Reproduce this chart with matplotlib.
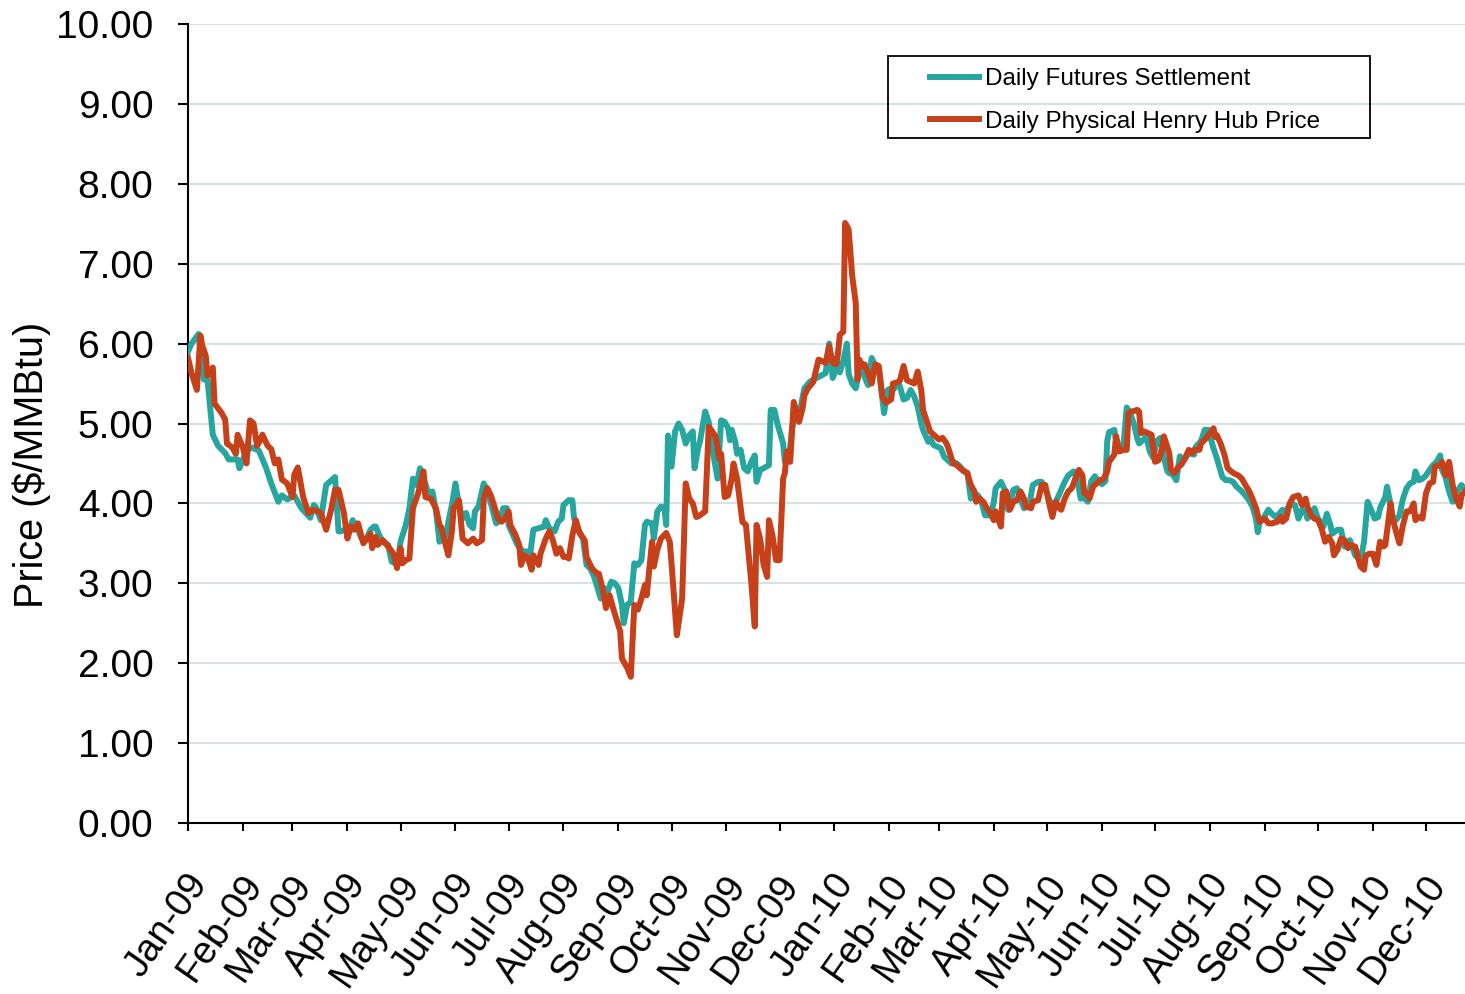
# Henry Hub: 일별 선물 정산가 vs 현물가 (2009-2010) 재현
import numpy as np
import matplotlib
matplotlib.use("Agg")
import matplotlib.pyplot as plt
import matplotlib.dates as mdates
from matplotlib.patches import Rectangle
from matplotlib.transforms import ScaledTranslation

plt.rcParams["font.family"] = ["Liberation Sans", "DejaVu Sans"]

START = np.datetime64("2009-01-01")
END_DAY = 721

# 선물 정산가 (2009-01-01 기준 경과일, $/MMBtu)
fut_day = [0, 2, 6, 9, 11, 14, 17, 21, 23, 28, 29, 33, 36, 40, 44, 47, 51, 53, 56, 60, 64, 69,
           71, 72, 75, 76, 78, 80, 83, 85, 86, 89, 92, 93, 96, 98, 101, 103, 105, 106, 108, 110,
           113, 115, 117, 119, 120, 123, 125, 127, 129, 131, 134, 136, 138, 140, 142,
           143, 145, 147, 149, 151, 153, 155, 157, 159, 161, 162, 164, 166, 167, 169, 171, 174,
           176, 178, 180, 181, 184, 186, 189, 191, 193, 195, 198, 201, 202, 204, 207, 209, 211,
           212, 215, 217, 218, 220, 223, 225, 227, 229, 231, 233, 235, 237, 239, 241, 243, 245,
           246, 248, 250, 252, 254, 256, 258, 259, 262, 263, 265, 267, 269, 270, 271, 273, 275,
           277, 279, 281, 283, 285, 286, 288, 289, 292, 294, 296, 299, 301, 303, 305, 306, 307,
           309, 310, 312, 314, 316, 318, 320, 321, 323, 325, 328, 329, 331, 333, 336, 337, 340,
           341, 343, 346, 348, 351, 354, 360, 362, 364, 367, 368, 370, 372, 373, 375, 377, 379,
           381, 382, 384, 386, 388, 390, 391, 393, 395, 397, 398, 401, 402, 404, 406, 408, 410,
           412, 414, 415, 418, 419, 421, 423, 425, 427, 429, 431, 432, 434, 436, 438, 440, 442,
           444, 446, 448, 450, 453, 455, 456, 459, 462, 463, 466, 468, 470, 472, 475, 477, 480,
           482, 484, 486, 488, 490, 493, 495, 497, 500, 502, 504, 506, 508, 510, 512, 514, 516,
           518, 519, 520, 523, 525, 528, 530, 532, 534, 536, 537, 540, 541, 543, 545, 547, 549,
           551, 553, 554, 556, 558, 560, 562, 565, 568, 569, 572, 574, 576, 579, 581, 582, 584,
           586, 588, 590, 592, 595, 597, 599, 601, 603, 604, 605, 607, 610, 612, 614, 616, 618,
           619, 621, 623, 625, 627, 629, 631, 632, 634, 636, 638, 641, 643, 645, 646, 649, 651,
           653, 655, 656, 659, 660, 662, 664, 666, 668, 670, 672, 673, 676, 677, 679, 680, 682,
           684, 686, 688, 690, 692, 693, 695, 697, 699, 701, 703, 705, 707, 708, 710, 712, 714,
           716, 719, 721]
fut_price = [5.90, 6.00, 6.12, 5.55, 5.55, 4.86, 4.72, 4.63, 4.55, 4.55, 4.44, 4.66, 4.70, 4.66,
             4.45, 4.25, 4.02, 4.10, 4.05, 4.10, 3.94, 3.82,
             3.98, 3.96, 3.79, 3.94, 4.23, 4.27, 4.33, 3.65, 3.65, 3.67, 3.73, 3.79, 3.67, 3.56,
             3.56, 3.67, 3.71, 3.71, 3.60, 3.52, 3.48, 3.27, 3.25, 3.35, 3.52, 3.73, 3.94, 4.31,
             4.23, 4.44, 4.25, 4.10, 4.15, 3.90, 3.52,
             3.60, 3.52, 3.77, 3.98, 4.25, 3.98, 3.81, 3.88, 3.73, 3.69, 3.90, 3.96, 4.15, 4.25,
             4.15, 4.00, 3.75, 3.79, 3.94, 3.94, 3.73, 3.58, 3.48, 3.40, 3.40, 3.33, 3.67, 3.69,
             3.71, 3.79, 3.69, 3.65, 3.77, 3.81, 3.98, 4.04, 4.04, 3.81, 3.69, 3.56, 3.23, 3.19,
             3.10, 2.96, 2.81, 2.94, 2.90, 3.02, 3.00, 2.94, 2.73, 2.50, 2.73, 2.77, 3.25, 3.23,
             3.29, 3.73, 3.77, 3.75, 3.56, 3.90, 3.96, 3.94, 3.73, 4.85, 4.46, 4.90, 5.00, 4.92,
             4.75, 4.85, 4.90, 4.44, 4.69, 4.77, 5.15, 5.02, 4.69, 4.31, 5.04, 5.02, 4.94, 4.79,
             4.92, 4.77, 4.62, 4.67, 4.44, 4.40, 4.52, 4.60, 4.27, 4.42, 4.44, 4.48, 5.17, 5.17,
             4.98, 4.75, 4.52, 4.69, 4.94, 5.10, 5.21, 5.44, 5.52, 5.56, 5.63, 6.00, 5.57, 5.75,
             5.64, 5.79, 6.00, 5.62, 5.50, 5.44, 5.65, 5.71, 5.58, 5.48, 5.82, 5.73, 5.69, 5.50,
             5.13, 5.42, 5.44, 5.42, 5.50, 5.46, 5.30, 5.32, 5.42, 5.34, 5.21, 5.00, 4.92, 4.77,
             4.81, 4.73, 4.71, 4.69, 4.58, 4.54, 4.50, 4.52, 4.50, 4.46, 4.40, 4.38, 4.06, 4.13,
             4.10, 4.02, 3.85, 3.85, 4.02, 4.19, 4.27, 4.13, 3.92, 4.17, 4.19, 4.06, 3.94, 3.98,
             4.23, 4.27, 4.27, 4.19, 4.06, 3.98, 4.02, 4.17, 4.27, 4.35, 4.40, 4.31, 4.06, 4.07,
             4.02, 4.28, 4.34, 4.28, 4.24, 4.28, 4.78, 4.89, 4.92, 4.65, 4.69, 5.20, 5.13, 5.00,
             4.81, 4.75, 4.81, 4.85, 4.65, 4.57, 4.78, 4.82, 4.57, 4.40, 4.38, 4.36, 4.29, 4.59,
             4.53, 4.63, 4.61, 4.71, 4.78, 4.92, 4.92, 4.69, 4.56, 4.48, 4.33, 4.29, 4.29, 4.27,
             4.21, 4.15, 4.10, 4.04, 3.96, 3.81, 3.64, 3.77, 3.81, 3.92, 3.87, 3.83, 3.87, 3.92,
             3.87, 3.94, 4.00, 3.98, 3.81, 3.92, 3.90, 3.81, 3.87, 3.94, 3.81, 3.71, 3.87, 3.73,
             3.62, 3.67, 3.67, 3.46, 3.46, 3.54, 3.35, 3.33, 3.29, 3.52, 4.02, 3.92, 3.81, 3.83,
             3.94, 4.08, 4.21, 3.98, 3.83, 3.79, 3.85, 4.06, 4.19, 4.25, 4.27, 4.40, 4.29, 4.31,
             4.35, 4.42, 4.48, 4.52, 4.60, 4.42, 4.33, 4.15, 4.02, 4.13, 4.23, 4.17]

# 현물 Henry Hub 가격
phy_day = [0, 2, 5, 7, 8, 10, 11, 14, 15, 19, 21, 22, 25, 27, 28, 31, 33, 35, 37, 39, 41, 42,
           45, 47, 49, 51, 53, 56, 59, 60, 62, 65, 68,
           71, 73, 75, 78, 81, 83, 85, 88, 90, 92, 94, 96, 99, 101, 103, 104, 106, 107, 110, 113,
           116, 118, 120, 121, 123, 125, 127, 130, 133, 134, 137, 140, 142,
           143, 145, 147, 149, 150, 153, 155, 158, 161, 163, 166, 167, 169, 171, 173, 175, 177,
           179, 181, 182, 185, 187, 188, 190, 192, 194, 195, 198, 199, 202, 204, 206, 208, 210,
           212, 214, 215, 217, 219, 221, 224, 225, 228, 231, 232, 234, 236, 238, 240, 244, 245,
           248, 250, 252, 254, 256, 258, 259, 262, 263, 265, 267, 270, 272, 273, 276, 279, 281,
           283, 285, 287, 289, 292, 294, 296, 298, 300, 301, 303, 305, 307, 308, 310, 313, 315,
           318, 320, 321, 323, 325, 327, 328, 330, 332, 334, 336, 337, 338, 340, 342, 345, 347,
           348, 350, 353, 356, 360, 362, 364, 366, 367, 368, 370, 371, 373, 375, 377, 378, 379,
           381, 382, 384, 386, 388, 390, 392, 394, 397, 398, 401, 402, 404, 406, 408, 410, 412,
           414, 415, 418, 419, 421, 424, 426, 428, 429, 432, 434, 437, 440, 442, 444, 445, 447,
           449, 451, 453, 455, 456, 458, 459, 460, 462, 464, 466, 468, 470, 472, 473, 476, 477,
           480, 482, 484, 486, 488, 490, 492, 493, 495, 497, 499, 501, 503, 505, 506, 507, 509,
           511, 513, 515, 517, 519, 520, 523, 524, 526, 528, 530, 531, 533, 536, 537, 538, 540,
           542, 544, 546, 548, 550, 551, 554, 555, 557, 559, 561, 563, 565, 567, 568, 571, 572,
           575, 577, 579, 580, 581, 583, 585, 587, 589, 591, 593, 595, 597, 599, 601, 603, 605,
           608, 610, 612, 615, 617, 618, 620, 622, 624, 627, 629, 631, 632, 634, 636, 638, 640,
           642, 644, 646, 647, 649, 651, 653, 655, 656, 659, 660, 662, 664, 665, 667, 669, 671,
           673, 675, 676, 679, 680, 682, 684, 686, 688, 690, 692, 693, 695, 697, 699, 701, 703,
           704, 707, 708, 710, 712, 714, 716, 718, 719, 721]
phy_price = [5.82, 5.63, 5.42, 6.10, 5.98, 5.85, 5.60, 5.70, 5.25, 5.13, 5.05, 4.75, 4.70, 4.62,
             4.86, 4.70, 4.50, 5.04, 5.00, 4.72, 4.80, 4.86, 4.72, 4.68, 4.50, 4.55, 4.30, 4.25,
             4.08, 4.36, 4.45, 4.08, 3.88,
             3.92, 3.90, 3.88, 3.67, 3.94, 4.17, 4.17, 3.88, 3.56, 3.71, 3.67, 3.75, 3.50, 3.56,
             3.62, 3.44, 3.58, 3.48, 3.54, 3.46, 3.37, 3.19, 3.44, 3.25, 3.29, 3.31, 3.94, 4.13,
             4.40, 4.08, 4.06, 3.94, 3.73,
             3.70, 3.52, 3.35, 3.65, 3.94, 4.04, 3.56, 3.50, 3.56, 3.50, 3.54, 4.06, 4.19, 4.10,
             3.96, 3.81, 3.77, 3.81, 3.90, 3.73, 3.60, 3.48, 3.23, 3.35, 3.31, 3.17, 3.35, 3.23,
             3.37, 3.56, 3.65, 3.54, 3.37, 3.44, 3.33, 3.33, 3.31, 3.60, 3.79, 3.63, 3.54, 3.33,
             3.19, 3.12, 3.12, 2.94, 2.69, 2.85, 2.69, 2.40, 2.06, 1.94, 1.83, 2.73, 2.67, 2.81,
             2.98, 2.85, 3.52, 3.21, 3.42, 3.56, 3.63, 3.52, 3.25, 2.35, 2.81, 4.25, 4.06, 4.00,
             3.83, 3.85, 3.90, 4.96, 4.90, 4.83, 4.56, 4.62, 4.08, 4.10, 4.31, 4.50, 4.31, 3.77,
             3.73, 3.02, 2.46, 3.73, 3.56, 3.23, 3.08, 3.79, 3.60, 3.29, 3.29, 4.31, 4.38, 4.65,
             4.52, 5.27, 5.02, 5.19, 5.35, 5.44, 5.52, 5.80, 5.76, 5.97, 5.76, 5.74, 5.88, 6.11,
             6.15, 7.51, 7.43, 6.85, 6.51, 5.55, 5.80, 5.72, 5.74, 5.63, 5.50, 5.74, 5.72, 5.34,
             5.26, 5.30, 5.50, 5.52, 5.54, 5.72, 5.54, 5.52, 5.50, 5.65, 5.42, 5.17, 4.97, 4.90,
             4.86, 4.80, 4.82, 4.76, 4.71, 4.50, 4.48, 4.42, 4.38, 4.23, 4.15, 4.02, 4.06, 4.02,
             3.94, 3.88, 3.79, 3.90, 3.77, 3.71, 4.13, 4.15, 3.92, 4.02, 4.04, 4.15, 4.06, 3.96,
             3.94, 4.02, 4.04, 4.23, 4.23, 4.02, 3.83, 4.02, 3.94, 3.92, 4.06, 4.15, 4.19, 4.31,
             4.42, 4.35, 4.13, 4.13, 4.06, 4.21, 4.25, 4.29, 4.31, 4.40, 4.52, 4.61, 4.84, 4.65,
             4.67, 4.67, 5.13, 5.15, 5.17, 5.15, 4.88, 4.90, 4.88, 4.86, 4.52, 4.54, 4.69, 4.84,
             4.63, 4.42, 4.38, 4.45, 4.49, 4.57, 4.67, 4.63, 4.67, 4.67, 4.75, 4.82, 4.88, 4.94,
             4.83, 4.85, 4.75, 4.62, 4.44, 4.40, 4.37, 4.35, 4.31, 4.23, 4.16, 4.06, 3.94, 3.77,
             3.81, 3.75, 3.75, 3.77, 3.83, 3.77, 3.81, 4.00, 4.08, 4.10, 3.98, 4.06, 3.96, 3.85,
             3.81, 3.79, 3.69, 3.52, 3.58, 3.50, 3.35, 3.42, 3.56, 3.54, 3.44, 3.48, 3.46, 3.37,
             3.21, 3.17, 3.35, 3.37, 3.37, 3.23, 3.52, 3.46, 3.48, 4.00, 3.83, 3.65, 3.50, 3.73,
             3.90, 3.90, 4.00, 3.79, 3.83, 3.81, 4.13, 4.25, 4.27, 4.46, 4.48, 4.52, 4.35, 4.52,
             4.23, 4.06, 3.96, 4.10, 4.15]

TEAL, RUST = "#27A6A0", "#C6401A"

fig = plt.figure(figsize=(14.65, 9.94), dpi=100)
ax = fig.add_axes([188 / 1465, 171 / 994, 1277 / 1465, 799 / 994])

fx = START + np.array(fut_day, dtype="timedelta64[D]")
px = START + np.array(phy_day, dtype="timedelta64[D]")
ax.plot(fx, fut_price, color=TEAL, lw=4.3, solid_joinstyle="round", label="Daily Futures Settlement", zorder=3)
ax.plot(px, phy_price, color=RUST, lw=4.3, solid_joinstyle="round", label="Daily Physical Henry Hub Price", zorder=4)

ax.set_xlim(START, START + np.timedelta64(END_DAY, "D"))
ax.set_ylim(0, 10)
ax.set_yticks(np.arange(0, 10.01, 1))
ax.yaxis.set_major_formatter(plt.FuncFormatter(lambda v, _: f"{v:.2f}"))
ax.xaxis.set_major_locator(mdates.MonthLocator())
ax.xaxis.set_major_formatter(mdates.DateFormatter("%b-%y"))

ax.grid(axis="y", color="#D6E3E3", lw=1.4, zorder=0)
ax.set_axisbelow(True)
for s in ["top", "right"]:
    ax.spines[s].set_visible(False)
for s in ["left", "bottom"]:
    ax.spines[s].set_linewidth(1.5)

ax.tick_params(axis="y", direction="out", length=7, width=1.5, pad=18, labelsize=28)
ax.tick_params(axis="x", direction="out", length=6, width=1.5, pad=26, labelsize=27.5)
off = ScaledTranslation(-2 / 72, 0, fig.dpi_scale_trans)
for lab in ax.get_xticklabels():
    lab.set_rotation(55)
    lab.set_ha("right")
    lab.set_va("top")
    lab.set_rotation_mode("anchor")
    lab.set_transform(lab.get_transform() + off)

fig.text(32 / 1465, 1 - 465 / 994, "Price ($/MMBtu)", rotation=90, ha="center", va="center", fontsize=28.5)

leg = fig.legend(loc="upper left", bbox_to_anchor=(930 / 1465, 1 - 68 / 994), bbox_transform=fig.transFigure,
                 frameon=False, fontsize=17.5, handlelength=2.0, handletextpad=0.25, labelspacing=0.85,
                 borderpad=0, borderaxespad=0)
fig.patches.append(Rectangle((888 / 1465, 1 - 138 / 994), 482 / 1465, 82 / 994, transform=fig.transFigure,
                             fill=False, edgecolor="black", lw=1.3))

fig.savefig("out.png", dpi=100)
